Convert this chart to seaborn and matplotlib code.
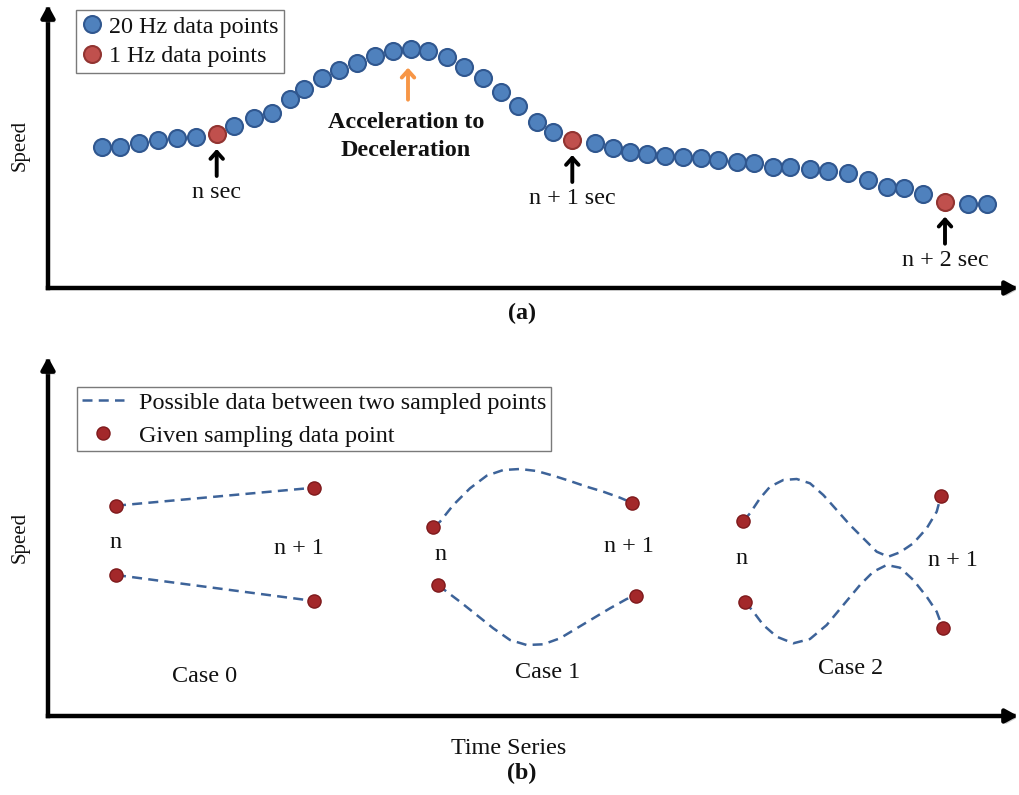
import matplotlib
matplotlib.use("Agg")
import matplotlib.pyplot as plt
import matplotlib.patheffects as pe
from matplotlib.lines import Line2D
import pandas as pd
import seaborn as sns

# ---------------- data ----------------
# (a) speed trace sampled at 20 Hz (arbitrary time / speed units)
time_20hz = [5.37, 7.20, 9.10, 11.03, 12.87, 14.77, 16.87, 18.63, 20.63, 22.37,
             24.20, 25.60, 27.37, 29.13, 30.87, 32.70, 34.47, 36.30, 38.03, 39.87,
             41.63, 43.47, 45.30, 47.03, 48.87, 50.53, 52.43, 54.70, 56.53, 58.20,
             59.87, 61.70, 63.53, 65.30, 67.03, 68.87, 70.63, 72.47, 74.20, 76.20,
             78.03, 80.03, 81.97, 83.87, 85.63, 87.53, 89.70, 92.03, 93.87]
speed_20hz = [14.13, 14.07, 14.47, 14.80, 15.03, 15.13, 15.40, 16.20, 16.97, 17.47,
              18.87, 19.90, 20.97, 21.80, 22.53, 23.20, 23.73, 23.93, 23.73, 23.13,
              22.13, 20.97, 19.63, 18.20, 16.63, 15.63, 14.80, 14.47, 13.97, 13.57,
              13.40, 13.23, 13.07, 12.97, 12.80, 12.63, 12.47, 12.13, 12.13, 11.87,
              11.70, 11.47, 10.80, 10.13, 9.97, 9.37, 8.63, 8.40, 8.40]
# every 20th sample is the 1 Hz reading
sample_idx_1hz = [6, 26, 46]
sample_labels_1hz = ["n sec", "n + 1 sec", "n + 2 sec"]
rate_labels = ["20 Hz data points", "1 Hz data points"]

# (b) possible paths between two sampled points
case0_upper_t = [6.80, 26.60]
case0_upper_v = [21.03, 22.83]
case0_lower_t = [6.80, 26.60]
case0_lower_v = [14.10, 11.50]

case1_upper_t = [38.53, 39.20, 40.53, 42.20, 43.87, 45.53, 47.20, 48.87, 50.53,
                 52.20, 53.87, 55.53, 57.20, 58.37]
case1_upper_v = [18.93, 19.43, 21.10, 22.77, 24.03, 24.60, 24.70, 24.50, 24.03,
                 23.50, 22.93, 22.43, 21.83, 21.33]
case1_lower_t = [39.03, 39.87, 41.20, 42.87, 44.53, 46.20, 47.87, 49.53, 51.20,
                 52.87, 54.53, 56.20, 57.87, 58.80]
case1_lower_v = [13.10, 12.43, 11.43, 10.10, 8.77, 7.60, 7.10, 7.17, 7.77,
                 8.77, 9.77, 10.77, 11.70, 12.00]

case2_upper_t = [69.53, 70.20, 71.20, 72.20, 73.53, 74.87, 76.20, 77.53, 78.87,
                 80.20, 81.53, 82.87, 84.03, 85.20, 86.53, 87.87, 88.87, 89.30]
case2_upper_v = [19.50, 20.27, 21.77, 22.93, 23.60, 23.70, 23.27, 22.10, 20.60,
                 19.10, 17.77, 16.43, 15.93, 16.37, 17.27, 18.77, 20.43, 22.03]
case2_lower_t = [69.70, 70.53, 71.53, 72.87, 74.53, 76.20, 77.87, 79.53, 81.20,
                 82.53, 83.87, 85.20, 86.53, 87.87, 88.87, 89.47]
case2_lower_v = [11.43, 10.43, 9.10, 7.93, 7.27, 7.70, 9.10, 11.10, 13.10,
                 14.43, 15.10, 14.83, 13.60, 11.93, 10.43, 8.83]

case_names = ["Case 0", "Case 1", "Case 2"]
legend_b_labels = ["Possible data between two sampled points",
                   "Given sampling data point"]

# ---------------- style ----------------
sns.set_theme(style="white")
plt.rcParams["font.family"] = ["Liberation Serif", "DejaVu Serif"]
plt.rcParams["text.color"] = "#111111"

BLUE, BLUE_EDGE = "#4f81bd", "#30578f"
RED, RED_EDGE = "#c0504d", "#923431"
DOT, DOT_EDGE = "#a3282a", "#7e1a1c"
DASH_C = "#3d6399"
ORANGE = "#f79646"
FS = 17.4

W, H = 1020, 795
fig = plt.figure(figsize=(W / 100, H / 100), dpi=100)


def fx(x):
    return x / W


def fy(y):
    return 1 - y / H


ax_a = fig.add_axes([fx(48), fy(288), (1018 - 48) / W, (288 - 5) / H])
ax_b = fig.add_axes([fx(48), fy(716), (1018 - 48) / W, (716 - 357) / H])
ax_a.set_xlim(0, 97)
ax_a.set_ylim(0, 28.3)
ax_b.set_xlim(0, 97)
ax_b.set_ylim(0, 35.9)

shadow = [pe.SimplePatchShadow(offset=(1.5, -2), shadow_rgbFace="0.55", alpha=0.45),
          pe.Normal()]
for ax in (ax_a, ax_b):
    ax.axis("off")
    for end in [(1, 0), (0, 1)]:
        ax.annotate("", xy=end, xytext=(0, 0), xycoords="axes fraction",
                    arrowprops=dict(arrowstyle="-|>,head_length=0.6,head_width=0.33",
                                    lw=3.2, color="black", shrinkA=0, shrinkB=0,
                                    mutation_scale=12, capstyle="projecting",
                                    path_effects=shadow),
                    annotation_clip=False)

# ---------------- panel (a) ----------------
df_a = pd.DataFrame({"time": time_20hz, "speed": speed_20hz})
df_a["rate"] = rate_labels[0]
df_a.loc[sample_idx_1hz, "rate"] = rate_labels[1]

for label, face, edge in [(rate_labels[0], BLUE, BLUE_EDGE),
                          (rate_labels[1], RED, RED_EDGE)]:
    sns.scatterplot(data=df_a[df_a["rate"] == label], x="time", y="speed",
                    color=face, edgecolor=edge, linewidth=1.5, s=150,
                    legend=False, ax=ax_a, zorder=3, clip_on=False)

for idx, lab in zip(sample_idx_1hz, sample_labels_1hz):
    t, v = time_20hz[idx], speed_20hz[idx]
    ax_a.annotate("", xy=(t, v - 1.5), xytext=(t, v - 4.2),
                  arrowprops=dict(arrowstyle="->,head_length=0.5,head_width=0.45",
                                  lw=2.8, color="black", shrinkA=0, shrinkB=0,
                                  mutation_scale=10))
    ax_a.text(t, v - 5.9, lab, ha="center", va="center", fontsize=FS)

peak = max(range(len(speed_20hz)), key=lambda i: speed_20hz[i])
tp, vp = time_20hz[peak], speed_20hz[peak]
ax_a.annotate("", xy=(tp - 0.3, vp - 1.9), xytext=(tp - 0.3, vp - 5.1),
              arrowprops=dict(arrowstyle="->,head_length=0.5,head_width=0.45",
                              lw=2.8, color=ORANGE, shrinkA=0, shrinkB=0,
                              mutation_scale=10))
ax_a.text(tp - 0.5, vp - 8.8, "Acceleration to\nDeceleration", ha="center",
          va="center", fontsize=FS, fontweight="bold", linespacing=1.4)

handles_a = [Line2D([], [], ls="", marker="o", markersize=12.2, mfc=BLUE,
                    mec=BLUE_EDGE, mew=1.5),
             Line2D([], [], ls="", marker="o", markersize=12.2, mfc=RED,
                    mec=RED_EDGE, mew=1.5)]
leg_a = ax_a.legend(handles_a, rate_labels, loc="upper left",
                    bbox_to_anchor=(fx(76), fy(10)), bbox_transform=fig.transFigure,
                    borderaxespad=0, fontsize=FS, frameon=True, fancybox=False,
                    framealpha=1, edgecolor="#7a7a7a", handlelength=0.8,
                    handletextpad=0.3, borderpad=0.25, labelspacing=0.3)
leg_a.get_frame().set_linewidth(1.0)
leg_a.set_zorder(5)

# ---------------- panel (b) ----------------
curves = [
    ("c0u", case0_upper_t, case0_upper_v), ("c0l", case0_lower_t, case0_lower_v),
    ("c1u", case1_upper_t, case1_upper_v), ("c1l", case1_lower_t, case1_lower_v),
    ("c2u", case2_upper_t, case2_upper_v), ("c2l", case2_lower_t, case2_lower_v),
]
df_b = pd.concat([pd.DataFrame({"curve": name, "t": t, "v": v})
                  for name, t, v in curves], ignore_index=True)
dash = (0, (4, 2.5))
sns.lineplot(data=df_b, x="t", y="v", units="curve", estimator=None, sort=False,
             color=DASH_C, lw=1.8, linestyle=dash, ax=ax_b, legend=False)

ends = pd.DataFrame({
    "t": [c[1][k] for c in curves for k in (0, -1)],
    "v": [c[2][k] for c in curves for k in (0, -1)],
})
sns.scatterplot(data=ends, x="t", y="v", color=DOT, edgecolor=DOT_EDGE,
                linewidth=1.0, s=90, ax=ax_b, zorder=3, legend=False)

# labels for the sample instants and cases
for (xn, yn), (xn1, yn1), (xc, yc), name in zip(
        [(6.8, 17.3), (39.3, 16.1), (69.4, 15.8)],
        [(25.1, 16.8), (58.1, 16.9), (90.5, 15.6)],
        [(15.7, 4.0), (50.0, 4.3), (80.3, 4.7)], case_names):
    ax_b.text(xn, yn, "n", ha="center", va="center", fontsize=FS)
    ax_b.text(xn1, yn1, "n + 1", ha="center", va="center", fontsize=FS)
    ax_b.text(xc, yc, name, ha="center", va="center", fontsize=FS)

handles_b = [Line2D([], [], color=DASH_C, lw=1.8, ls=dash),
             Line2D([], [], ls="", marker="o", markersize=9.4, mfc=DOT,
                    mec=DOT_EDGE, mew=1.0)]
leg_b = ax_b.legend(handles_b, legend_b_labels, loc="upper left",
                    bbox_to_anchor=(fx(77), fy(387)), bbox_transform=fig.transFigure,
                    borderaxespad=0, fontsize=FS, frameon=True, fancybox=False,
                    framealpha=1, edgecolor="#7a7a7a", handlelength=1.75,
                    handletextpad=0.6, borderpad=0.2, labelspacing=0.45)
leg_b.get_frame().set_linewidth(1.0)

# ---------------- figure-level text ----------------
fig.text(fx(20), fy(145), "Speed", rotation=90, ha="center", va="center", fontsize=15)
fig.text(fx(20), fy(537), "Speed", rotation=90, ha="center", va="center", fontsize=15)
fig.text(fx(522), fy(313), "(a)", ha="center", va="center", fontsize=FS,
         fontweight="bold")
fig.text(fx(509), fy(748), "Time Series", ha="center", va="center", fontsize=FS)
fig.text(fx(522), fy(773), "(b)", ha="center", va="center", fontsize=FS,
         fontweight="bold")

fig.savefig("out.png", dpi=100, facecolor="white")
